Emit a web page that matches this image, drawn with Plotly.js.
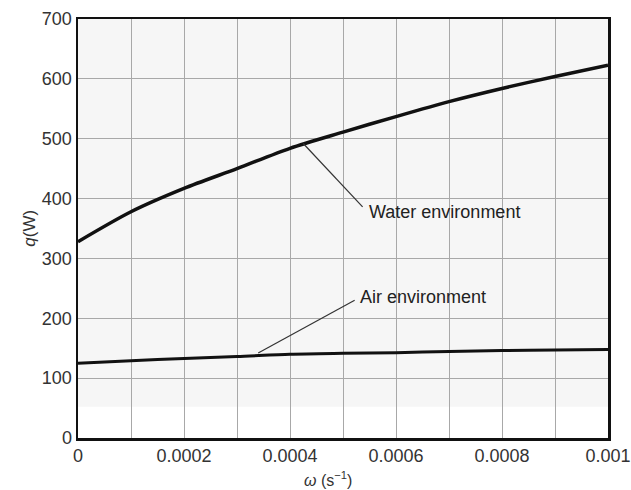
<!DOCTYPE html>
<html>
<head>
<meta charset="utf-8">
<script src="https://cdn.plot.ly/plotly-3.0.1.min.js"></script>
<style>html,body{margin:0;padding:0;background:#fff;}#chart{width:631px;height:490px;}</style>
</head>
<body>
<div id="chart"></div>
<script>
const omega = [0, 0.0001, 0.0002, 0.0003, 0.0004, 0.0005, 0.0006, 0.0007, 0.0008, 0.0009, 0.001];
const qWater = [328, 378, 417, 450, 484, 511, 537, 562, 584, 604, 623];
const qAir = [125, 129, 133, 136, 140, 141.5, 142.5, 144.5, 146, 147, 148];
const xTickVals = [0, 0.0002, 0.0004, 0.0006, 0.0008, 0.001];
const xTickText = ['0', '0.0002', '0.0004', '0.0006', '0.0008', '0.001'];
const yTickVals = [0, 100, 200, 300, 400, 500, 600, 700];
const waterLabel = 'Water environment';
const airLabel = 'Air environment';

const font = 'Liberation Sans, Arial, sans-serif';

const traces = [
  {x: omega, y: qWater, mode: 'lines', line: {color: '#111', width: 3.5, shape: 'spline', smoothing: 0.8}, name: 'Water', hoverinfo: 'skip'},
  {x: omega, y: qAir, mode: 'lines', line: {color: '#111', width: 3, shape: 'spline', smoothing: 0.8}, name: 'Air', hoverinfo: 'skip'}
];

const axisCommon = {
  showline: true, linecolor: '#111', linewidth: 2.5, mirror: true,
  showgrid: true, gridcolor: '#a8a8a8', gridwidth: 1,
  zeroline: false, ticks: '', tickfont: {family: font, size: 18, color: '#333'}
};

const layout = {
  width: 631, height: 490,
  margin: {l: 78, r: 23, t: 19, b: 52},
  paper_bgcolor: '#ffffff',
  plot_bgcolor: '#f6f6f6',
  showlegend: false,
  xaxis: Object.assign({}, axisCommon, {
    range: [0, 0.001], tickmode: 'array', tickvals: xTickVals, ticktext: xTickText,
    minor: {tickmode: 'linear', tick0: 0, dtick: 0.0001, showgrid: true, gridcolor: '#a8a8a8', gridwidth: 1, ticks: ''}
  }),
  yaxis: Object.assign({}, axisCommon, {
    range: [0, 700], tickmode: 'array', tickvals: yTickVals
  }),
  shapes: [
    {type: 'rect', xref: 'x', yref: 'y', x0: 0, x1: 0.001, y0: 0, y1: 52, fillcolor: '#ffffff', line: {width: 0}, layer: 'below'},
    {type: 'line', xref: 'x', yref: 'y', x0: 0.000425, y0: 492, x1: 0.000537, y1: 386, line: {color: '#333', width: 1.2}},
    {type: 'line', xref: 'x', yref: 'y', x0: 0.000340, y0: 142, x1: 0.000522, y1: 230, line: {color: '#333', width: 1.2}}
  ],
  annotations: [
    {xref: 'x', yref: 'y', x: 0.000545, y: 377, text: waterLabel, showarrow: false, xanchor: 'left', yanchor: 'middle',
     font: {family: font, size: 18, color: '#222'}},
    {xref: 'x', yref: 'y', x: 0.000528, y: 235, text: airLabel, showarrow: false, xanchor: 'left', yanchor: 'middle',
     font: {family: font, size: 18, color: '#222'}},
    {xref: 'paper', yref: 'paper', x: 0.472, y: -0.098, text: '<i>ω</i> (s<sup>−1</sup>)', showarrow: false, xanchor: 'center', yanchor: 'middle',
     font: {family: font, size: 16, color: '#333'}},
    {xref: 'paper', yref: 'paper', x: -0.092, y: 0.5, text: '<i>q</i>(W)', showarrow: false, textangle: -90, xanchor: 'center', yanchor: 'middle',
     font: {family: font, size: 17, color: '#333'}}
  ]
};

Plotly.newPlot('chart', traces, layout, {staticPlot: true, displayModeBar: false});
</script>
</body>
</html>
